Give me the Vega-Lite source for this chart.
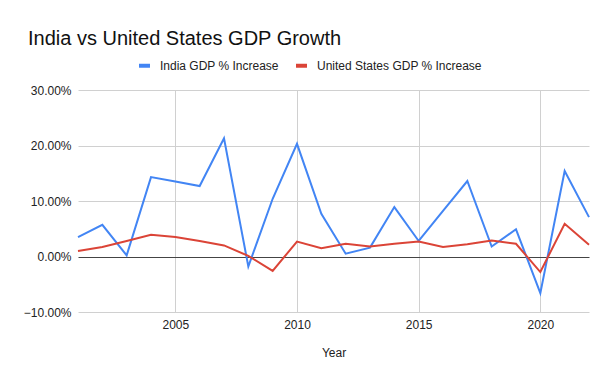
{
  "$schema": "https://vega.github.io/schema/vega-lite/v6.json",
  "autosize": {"type": "none"},
  "width": 511,
  "height": 222,
  "padding": {"left": 78, "top": 90, "right": 10, "bottom": 65},
  "background": "white",
  "title": {
    "text": "India vs United States GDP Growth",
    "anchor": "start",
    "frame": "group",
    "dx": -50,
    "offset": 9,
    "font": "Liberation Sans",
    "fontSize": 20,
    "fontWeight": "normal",
    "color": "#111"
  },
  "config": {
    "view": {"stroke": null},
    "font": "Liberation Sans"
  },
  "data": {
    "values": [
      {"Year": 2001, "series": "India GDP % Increase", "v": 3.5},
      {"Year": 2002, "series": "India GDP % Increase", "v": 5.7},
      {"Year": 2003, "series": "India GDP % Increase", "v": 0.2},
      {"Year": 2004, "series": "India GDP % Increase", "v": 14.3},
      {"Year": 2005, "series": "India GDP % Increase", "v": 13.5},
      {"Year": 2006, "series": "India GDP % Increase", "v": 12.7},
      {"Year": 2007, "series": "India GDP % Increase", "v": 21.3},
      {"Year": 2008, "series": "India GDP % Increase", "v": -1.8},
      {"Year": 2009, "series": "India GDP % Increase", "v": 10.4},
      {"Year": 2010, "series": "India GDP % Increase", "v": 20.3},
      {"Year": 2011, "series": "India GDP % Increase", "v": 7.7},
      {"Year": 2012, "series": "India GDP % Increase", "v": 0.5},
      {"Year": 2013, "series": "India GDP % Increase", "v": 1.6},
      {"Year": 2014, "series": "India GDP % Increase", "v": 8.9},
      {"Year": 2015, "series": "India GDP % Increase", "v": 2.8},
      {"Year": 2016, "series": "India GDP % Increase", "v": 8.2},
      {"Year": 2017, "series": "India GDP % Increase", "v": 13.6},
      {"Year": 2018, "series": "India GDP % Increase", "v": 1.8},
      {"Year": 2019, "series": "India GDP % Increase", "v": 4.9},
      {"Year": 2020, "series": "India GDP % Increase", "v": -6.6},
      {"Year": 2021, "series": "India GDP % Increase", "v": 15.4},
      {"Year": 2022, "series": "India GDP % Increase", "v": 7.1},
      {"Year": 2001, "series": "United States GDP % Increase", "v": 1.0},
      {"Year": 2002, "series": "United States GDP % Increase", "v": 1.7},
      {"Year": 2003, "series": "United States GDP % Increase", "v": 2.8},
      {"Year": 2004, "series": "United States GDP % Increase", "v": 3.9},
      {"Year": 2005, "series": "United States GDP % Increase", "v": 3.5},
      {"Year": 2006, "series": "United States GDP % Increase", "v": 2.8},
      {"Year": 2007, "series": "United States GDP % Increase", "v": 2.0},
      {"Year": 2008, "series": "United States GDP % Increase", "v": 0.1},
      {"Year": 2009, "series": "United States GDP % Increase", "v": -2.6},
      {"Year": 2010, "series": "United States GDP % Increase", "v": 2.7},
      {"Year": 2011, "series": "United States GDP % Increase", "v": 1.5},
      {"Year": 2012, "series": "United States GDP % Increase", "v": 2.3},
      {"Year": 2013, "series": "United States GDP % Increase", "v": 1.8},
      {"Year": 2014, "series": "United States GDP % Increase", "v": 2.3},
      {"Year": 2015, "series": "United States GDP % Increase", "v": 2.7},
      {"Year": 2016, "series": "United States GDP % Increase", "v": 1.7},
      {"Year": 2017, "series": "United States GDP % Increase", "v": 2.2},
      {"Year": 2018, "series": "United States GDP % Increase", "v": 2.9},
      {"Year": 2019, "series": "United States GDP % Increase", "v": 2.3},
      {"Year": 2020, "series": "United States GDP % Increase", "v": -2.8},
      {"Year": 2021, "series": "United States GDP % Increase", "v": 5.9},
      {"Year": 2022, "series": "United States GDP % Increase", "v": 2.1}
    ]
  },
  "mark": {"type": "line", "strokeWidth": 2, "clip": false},
  "encoding": {
    "x": {
      "field": "Year",
      "type": "quantitative",
      "scale": {"domain": [2001, 2022], "nice": false, "zero": false},
      "axis": {
        "values": [2005, 2010, 2015, 2020],
        "format": "d",
        "title": "Year",
        "grid": true,
        "gridColor": "#d0d0d0",
        "domain": false,
        "ticks": false,
        "labelPadding": 7,
        "labelFontSize": 12,
        "labelColor": "#222",
        "titleFontSize": 12,
        "titleFontWeight": "normal",
        "titleColor": "#222",
        "titlePadding": 17
      }
    },
    "y": {
      "field": "v",
      "type": "quantitative",
      "scale": {"domain": [-10, 30], "nice": false},
      "axis": {
        "values": [-10, 0, 10, 20, 30],
        "labelExpr": "format(datum.value, '.2f') + '%'",
        "title": null,
        "grid": true,
        "gridColor": {"condition": {"test": "datum.value === 0", "value": "#444"}, "value": "#d0d0d0"},
        "domain": false,
        "ticks": false,
        "labelPadding": 7,
        "labelFontSize": 12,
        "labelColor": "#222"
      }
    },
    "color": {
      "field": "series",
      "type": "nominal",
      "scale": {
        "domain": ["India GDP % Increase", "United States GDP % Increase"],
        "range": ["#4285F4", "#DB4437"]
      },
      "legend": {
        "title": null,
        "orient": "none",
        "direction": "horizontal",
        "legendX": 59,
        "legendY": -32,
        "padding": 0,
        "symbolType": "stroke",
        "symbolSize": 120,
        "symbolStrokeWidth": 4,
        "labelFontSize": 12,
        "labelColor": "#222",
        "labelOffset": 8,
        "labelLimit": 300,
        "columnPadding": 9
      }
    }
  }
}
